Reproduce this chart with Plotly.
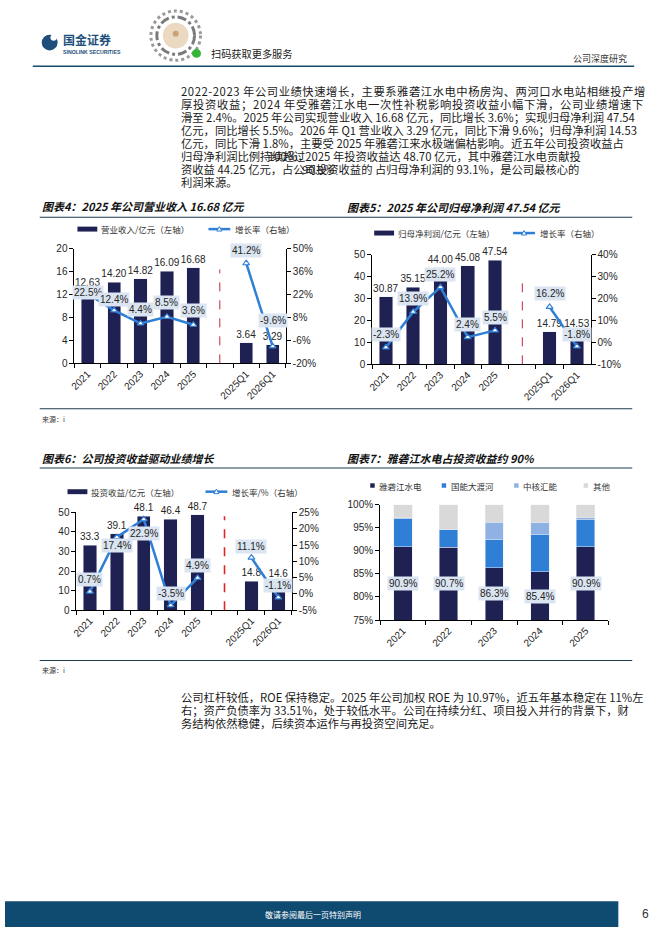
import plotly.graph_objects as go

W, H = 662, 936


def px(x):
    return x / W


def py(y):
    return 1 - y / H


# ---------------- data ----------------
periods = ["2021", "2022", "2023", "2024", "2025"]
quarters = ["2025Q1", "2026Q1"]
gap = " "

rev_annual = [12.63, 14.20, 14.82, 16.09, 16.68]
rev_quarter = [3.64, 3.29]
rev_g_annual = [22.5, 12.4, 4.4, 8.5, 3.6]
rev_g_quarter = [41.2, -9.6]

np_annual = [30.87, 35.15, 44.00, 45.08, 47.54]
np_quarter = [14.79, 14.53]
np_g_annual = [-2.3, 13.9, 25.2, 2.4, 5.5]
np_g_quarter = [16.2, -1.8]

inv_annual = [33.3, 39.1, 48.1, 46.4, 48.7]
inv_quarter = [14.8, 14.6]
inv_g_annual = [0.7, 17.4, 22.9, -3.5, 4.9]
inv_g_quarter = [11.1, -1.1]

share_years = ["2021", "2022", "2023", "2024", "2025"]
share_yalong = [90.9, 90.7, 86.3, 85.4, 90.9]
share_dadu = [6.0, 4.0, 6.2, 8.2, 5.8]
share_zhonghe = [0.2, 0.0, 3.7, 2.5, 0.4]
share_other = [2.9, 5.3, 3.8, 3.9, 2.9]
share_names = ["雅砻江水电", "国能大渡河", "中核汇能", "其他"]

# ---------------- style ----------------
NAVY = "#1f2152"
BLUE = "#2f7fd6"
LBLUE = "#8fb1e3"
GREY = "#d9d9d9"
BOX = "#dbe5f1"
TEAL = "#174a6a"
NUM = "Liberation Sans, Arial, sans-serif"
CJK = "Noto Sans CJK SC, sans-serif"
TXT = "#262626"
BODY = 11.3

fig = go.Figure()
annotations = []
shapes = []

cat_all = periods + [gap] + quarters


def combo(xa, ya, ya2, bars_a, bars_q, g_a, g_q, fmt, shifts):
    fig.add_trace(go.Bar(
        x=cat_all, y=bars_a + [None] + bars_q, xaxis=xa, yaxis=ya,
        marker_color=NAVY, width=0.5, texttemplate=fmt,
        textposition="outside", constraintext="none", cliponaxis=False,
        textfont=dict(family=NUM, size=10, color=TXT), showlegend=False))
    for xs, ys in ((periods, g_a), (quarters, g_q)):
        fig.add_trace(go.Scatter(
            x=xs, y=ys, xaxis=xa, yaxis=ya2, mode="lines+markers",
            line=dict(color=BLUE, width=2.5),
            marker=dict(symbol="triangle-up", size=6, color="white",
                        line=dict(color=BLUE, width=1.2)),
            cliponaxis=False, showlegend=False))
    xs_all = periods + quarters
    ys_all = g_a + g_q
    for i, (xv, yv) in enumerate(zip(xs_all, ys_all)):
        annotations.append(dict(
            x=cat_all.index(xv), y=yv, xref=xa, yref=ya2, text=f"{yv:.1f}%",
            showarrow=False, yshift=shifts[i], bgcolor=BOX, borderpad=1,
            font=dict(family=NUM, size=10, color=TXT)))


combo("x", "y", "y2", rev_annual, rev_quarter, rev_g_annual, rev_g_quarter,
      "%{y:.2f}", [1, 11, 14, 14, 14, 13, 26])
combo("x2", "y3", "y4", np_annual, np_quarter, np_g_annual, np_g_quarter,
      "%{y:.2f}", [13, 13, 13, 13, 13, 13, 12])
combo("x3", "y5", "y6", inv_annual, inv_quarter, inv_g_annual, inv_g_quarter,
      "%{y:.1f}", [12, -8, -14, 12, 12, 11, 12])

# stacked share chart
for vals, col in zip([share_yalong, share_dadu, share_zhonghe, share_other],
                     [NAVY, BLUE, LBLUE, GREY]):
    fig.add_trace(go.Bar(x=share_years, y=vals, xaxis="x4", yaxis="y7",
                         marker_color=col, width=0.4, showlegend=False))
for i, v in enumerate(share_yalong):
    annotations.append(dict(
        x=i, y=(75 + v) / 2, xref="x4", yref="y7", text=f"{v:.1f}%",
        showarrow=False, bgcolor=BOX, borderpad=1,
        font=dict(family=NUM, size=10, color=TXT)))

# dashed separators
for xr, yr, top, col, wd in (("x", "y", 0.82, "#c0283a", 1.0),
                             ("x2", "y3", 0.815, "#c0283a", 1.0),
                             ("x3", "y5", 0.96, "#e02424", 1.6)):
    shapes.append(dict(type="line", xref=xr, yref=yr + " domain",
                       x0=cat_all.index(gap), x1=cat_all.index(gap),
                       y0=0, y1=top, line=dict(color=col, width=wd,
                                               dash="dash")))

# ---------------- axes ----------------
tick_font = dict(family=NUM, size=10, color=TXT)


def xaxis(dom, anchor, cats):
    return dict(domain=[px(dom[0]), px(dom[1])], anchor=anchor, type="category",
                categoryorder="array", categoryarray=cats,
                range=[-0.5, len(cats) - 0.5], tickson="boundaries",
                ticks="outside", ticklen=4, tickcolor="black",
                showline=True, linecolor="black", linewidth=1,
                tickangle=-45, tickfont=tick_font, showgrid=False,
                fixedrange=True)


def yaxis(dom, anchor, rng, vals, suffix="", side="left", overlay=None):
    d = dict(anchor=anchor, range=rng,
             tickmode="array", tickvals=vals,
             ticktext=[f"{v}{suffix}" for v in vals],
             ticks="outside", ticklen=4, tickcolor="black", showline=True,
             linecolor="black", linewidth=1, tickfont=tick_font,
             showgrid=False, zeroline=False, side=side, fixedrange=True)
    if overlay:
        d["overlaying"] = overlay
    else:
        d["domain"] = [py(dom[1]), py(dom[0])]
    return d


layout = dict(
    width=W, height=H, margin=dict(l=0, r=0, t=0, b=0),
    paper_bgcolor="white", plot_bgcolor="rgba(0,0,0,0)", barmode="stack",
    showlegend=False,
    xaxis=xaxis((70, 283), "y", cat_all),
    yaxis=yaxis((246, 362), "x", [0, 20], [0, 4, 8, 12, 16, 20]),
    yaxis2=yaxis((246, 362), "x", [-20, 50], [-20, -6, 8, 22, 36, 50], "%",
                 "right", "y"),
    xaxis2=xaxis((370, 590), "y3", cat_all),
    yaxis3=yaxis((252, 363), "x2", [0, 50], [0, 10, 20, 30, 40, 50]),
    yaxis4=yaxis((252, 363), "x2", [-10, 40], [-10, 0, 10, 20, 30, 40], "%",
                 "right", "y3"),
    xaxis3=xaxis((72, 289), "y5", cat_all),
    yaxis5=yaxis((513, 612), "x3", [0, 50], [0, 10, 20, 30, 40, 50]),
    yaxis6=yaxis((513, 612), "x3", [-5, 25], [-5, 0, 5, 10, 15, 20, 25], "%",
                 "right", "y5"),
    xaxis4=xaxis((378, 608), "y7", share_years),
    yaxis7=yaxis((505, 622), "x4", [75, 100], [75, 80, 85, 90, 95, 100], "%"),
)
fig.update_layout(**layout)


# ---------------- page decoration ----------------
def text(x, y, s, size, color=TXT, family=CJK, anchor="left"):
    annotations.append(dict(x=px(x), y=py(y), xref="paper", yref="paper",
                            text=s, showarrow=False, xanchor=anchor,
                            yanchor="middle", borderpad=0,
                            font=dict(family=family, size=size, color=color)))


def hline(x0, x1, y, color=TEAL, width=1.2):
    shapes.append(dict(type="line", xref="paper", yref="paper", x0=px(x0),
                       x1=px(x1), y0=py(y), y1=py(y),
                       line=dict(color=color, width=width)))


def rect(x0, y0, x1, y1, color):
    shapes.append(dict(type="rect", xref="paper", yref="paper", x0=px(x0),
                       x1=px(x1), y0=py(y1), y1=py(y0), fillcolor=color,
                       line=dict(width=0)))


def circle(cx, cy, r, fill=None, line=None, lw=0, dash="solid"):
    shapes.append(dict(type="circle", xref="paper", yref="paper",
                       x0=px(cx - r), x1=px(cx + r), y0=py(cy + r),
                       y1=py(cy - r), fillcolor=fill or "rgba(0,0,0,0)",
                       line=dict(color=line or "rgba(0,0,0,0)", width=lw,
                                 dash=dash)))


# header
circle(45, 37, 8, fill="#1d4f7a")
circle(49, 32, 3.2, fill="white")
text(57, 34, "<b>国金证券</b>", 12, color="#1d4f7a")
text(57, 47, "<b>SINOLINK SECURITIES</b>", 5.2, color="#1d4f7a", family=NUM)
circle(172, 30, 25, line="#9a9a9a", lw=3, dash="dot")
circle(172, 30, 19, line="#7a7a7a", lw=3, dash="dashdot")
circle(172, 30, 13, fill="#ecd9c2")
circle(172, 28, 3, fill="#c9a27a")
circle(193, 48, 4.5, fill="#35b535")
text(207, 48, "扫码获取更多服务", 10.2, color="#222")
text(628, 53, "公司深度研究", 9, color="#333", anchor="right")
hline(28, 634, 61, color=TEAL, width=1.5)

# top paragraph
para1 = [
    "2022-2023 年公司业绩快速增长，主要系雅砻江水电中杨房沟、两河口水电站相继投产增",
    "厚投资收益；2024 年受雅砻江水电一次性补税影响投资收益小幅下滑，公司业绩增速下",
    "滑至 2.4%。2025 年公司实现营业收入 16.68 亿元，同比增长 3.6%；实现归母净利润 47.54",
    "亿元，同比增长 5.5%。2026 年 Q1 营业收入 3.29 亿元，同比下滑 9.6%；归母净利润 14.53",
    "亿元，同比下滑 1.8%，主要受 2025 年雅砻江来水极端偏枯影响。近五年公司投资收益占",
    "归母净利润比例持续超过2025 年投资收益达 48.70 亿元，其中雅砻江水电贡献投",
    "资收益 44.25 亿元，占公司投资收益的 占归母净利润的 93.1%，是公司最核心的",
    "利润来源。",
]
para1_spacing = [0.55, 0.7, 0, 0, 0, 0, 0, 0]
for i, line in enumerate(para1):
    s = line
    if para1_spacing[i]:
        s = f'<span style="letter-spacing:{para1_spacing[i]}px">{line}</span>'
    text(176, 86 + i * 13.2, s, BODY, color="#1a1a1a")
text(264, 86 + 5 * 13.2, "100%，", BODY, color="#1a1a1a")
text(298, 86 + 6 * 13.2, "90.9%", BODY, color="#1a1a1a")

# chart titles
text(36, 203, "<b><i>图表4：2025 年公司营业收入 16.68 亿元</i></b>", 11, color="#111")
text(344, 204, "<b><i>图表5：2025 年公司归母净利润 47.54 亿元</i></b>", 11, color="#111")
text(36, 458, "<b><i>图表6：公司投资收益驱动业绩增长</i></b>", 11, color="#111")
text(344, 458, "<b><i>图表7：雅砻江水电占投资收益约 90%</i></b>", 11, color="#111")
hline(35, 632, 214, color="#1f3a4d", width=1.2)
hline(35, 632, 468, color="#1f3a4d", width=1.2)
hline(35, 632, 408, color="#1f3a4d", width=1.2)
hline(35, 632, 663, color="#1f3a4d", width=1.2)
text(36, 418, "来源：i", 7, color="#333")
text(36, 673, "来源：i", 7, color="#333")


# legends
def leg_bar(x, y, label):
    rect(x, y - 2.5, x + 20, y + 2.5, NAVY)
    text(x + 23, y, label, 8.5, color="#333")


def leg_line(x, y, label):
    hline(x, x + 22, y, color=BLUE, width=2.5)
    cx = x + 11
    shapes.append(dict(type="path", xref="paper", yref="paper",
                       path=f"M {px(cx - 2.6)} {py(y + 2)} L {px(cx + 2.6)} {py(y + 2)} "
                            f"L {px(cx)} {py(y - 2.6)} Z",
                       fillcolor="white", line=dict(color=BLUE, width=1)))
    text(x + 26, y, label, 8.5, color="#333")


leg_bar(73, 226, "营业收入/亿元（左轴）")
leg_line(205, 226, "增长率（右轴）")
leg_bar(372, 230, "归母净利润/亿元（左轴）")
leg_line(512, 230, "增长率（右轴）")
leg_bar(63, 492, "投资收益/亿元（左轴）")
leg_line(202, 492, "增长率/%（右轴）")
for xpos, name, col in zip([368, 440, 513, 583], share_names,
                           [NAVY, BLUE, LBLUE, GREY]):
    rect(xpos, 483.5, xpos + 4.5, 488, col)
    text(xpos + 8, 486, name, 8.5, color="#333")

# bottom paragraph
para2 = [
    "公司杠杆较低，ROE 保持稳定。2025 年公司加权 ROE 为 10.97%，近五年基本稳定在 11%左",
    "右；资产负债率为 33.51%，处于较低水平。公司在持续分红、项目投入并行的背景下，财",
    "务结构依然稳健，后续资本运作与再投资空间充足。",
]
for i, line in enumerate(para2):
    text(176, 700 + i * 13.4, line, BODY, color="#1a1a1a")

# footer
rect(0, 907, 618, 933, "#0f4a70")
text(310, 920, "敬请参阅最后一页特别声明", 8, color="white", anchor="center")
text(645, 920, "6", 12, color="#333", family=NUM, anchor="center")

fig.update_layout(annotations=annotations, shapes=shapes)
fig.write_html("out.html")
